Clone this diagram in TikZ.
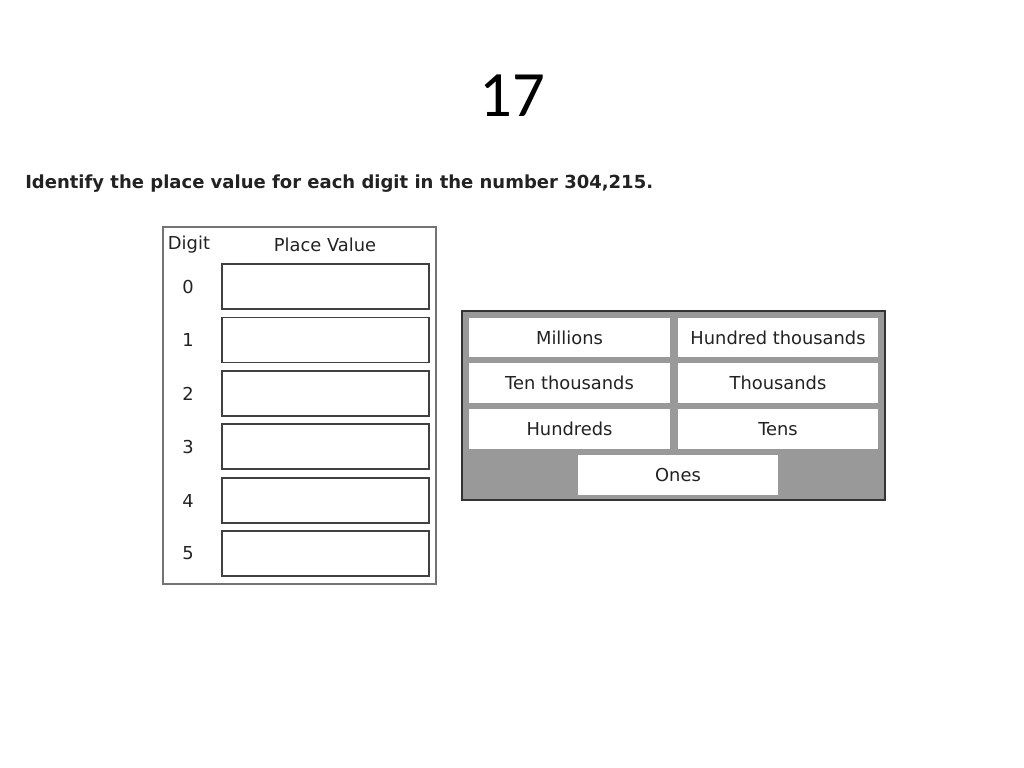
\documentclass[tikz,border=0pt]{standalone}
\usepackage{fontspec}
\setmainfont{DejaVu Sans}
\newfontfamily\titlefont{Carlito}
\definecolor{panelgray}{HTML}{999999}
\definecolor{inkgray}{HTML}{222222}
\begin{document}
\begin{tikzpicture}[
    x=0.025cm, y=-0.025cm,
    every node/.style={text=inkgray, font=\fontsize{12.7}{15}\selectfont},
    answer box/.style={draw=black!75, line width=1.3pt, fill=white, inner sep=0pt,
        minimum width=5.175cm, minimum height=1.125cm},
    choice box/.style={fill=white, inner sep=0pt,
        minimum width=5.0cm, minimum height=0.975cm},
    ]
\useasboundingbox (0,0) rectangle (1024,768);
\node[font=\titlefont\fontsize{46}{50}\selectfont, text=black] (title) at (512,96) {17};
\node[font=\bfseries\fontsize{12.8}{15}\selectfont, anchor=west, inner sep=0pt] (prompt) at (25,184)
    {Identify the place value for each digit in the number 304,215.};
% digit table
\draw[draw=black!55, line width=0.9pt] (163,227) rectangle (436,584);
\node (digithead) at (189,245) {Digit};
\node (placehead) at (325,245) {Place Value};
\node[answer box] (ans0) at (325.5,286.5) {};
\node[answer box] (ans1) at (325.5,340) {};
\node[answer box] (ans2) at (325.5,393.5) {};
\node[answer box] (ans3) at (325.5,446.5) {};
\node[answer box] (ans4) at (325.5,500.5) {};
\node[answer box] (ans5) at (325.5,553.5) {};
\node (dig0) at (188,286.5) {0};
\node (dig1) at (188,340) {1};
\node (dig2) at (188,393.5) {2};
\node (dig3) at (188,446.5) {3};
\node (dig4) at (188,500.5) {4};
\node (dig5) at (188,553.5) {5};
% choices panel
\draw[draw=black!80, fill=panelgray, line width=0.9pt] (462,311) rectangle (885,500);
\node[choice box] (millions) at (569.5,337.5) {Millions};
\node[choice box] (hundredthousands) at (778,337.5) {Hundred thousands};
\node[choice box] (tenthousands) at (569.5,383) {Ten thousands};
\node[choice box] (thousands) at (778,383) {Thousands};
\node[choice box] (hundreds) at (569.5,429) {Hundreds};
\node[choice box] (tens) at (778,429) {Tens};
\node[choice box] (ones) at (678,475) {Ones};
\end{tikzpicture}
\end{document}
